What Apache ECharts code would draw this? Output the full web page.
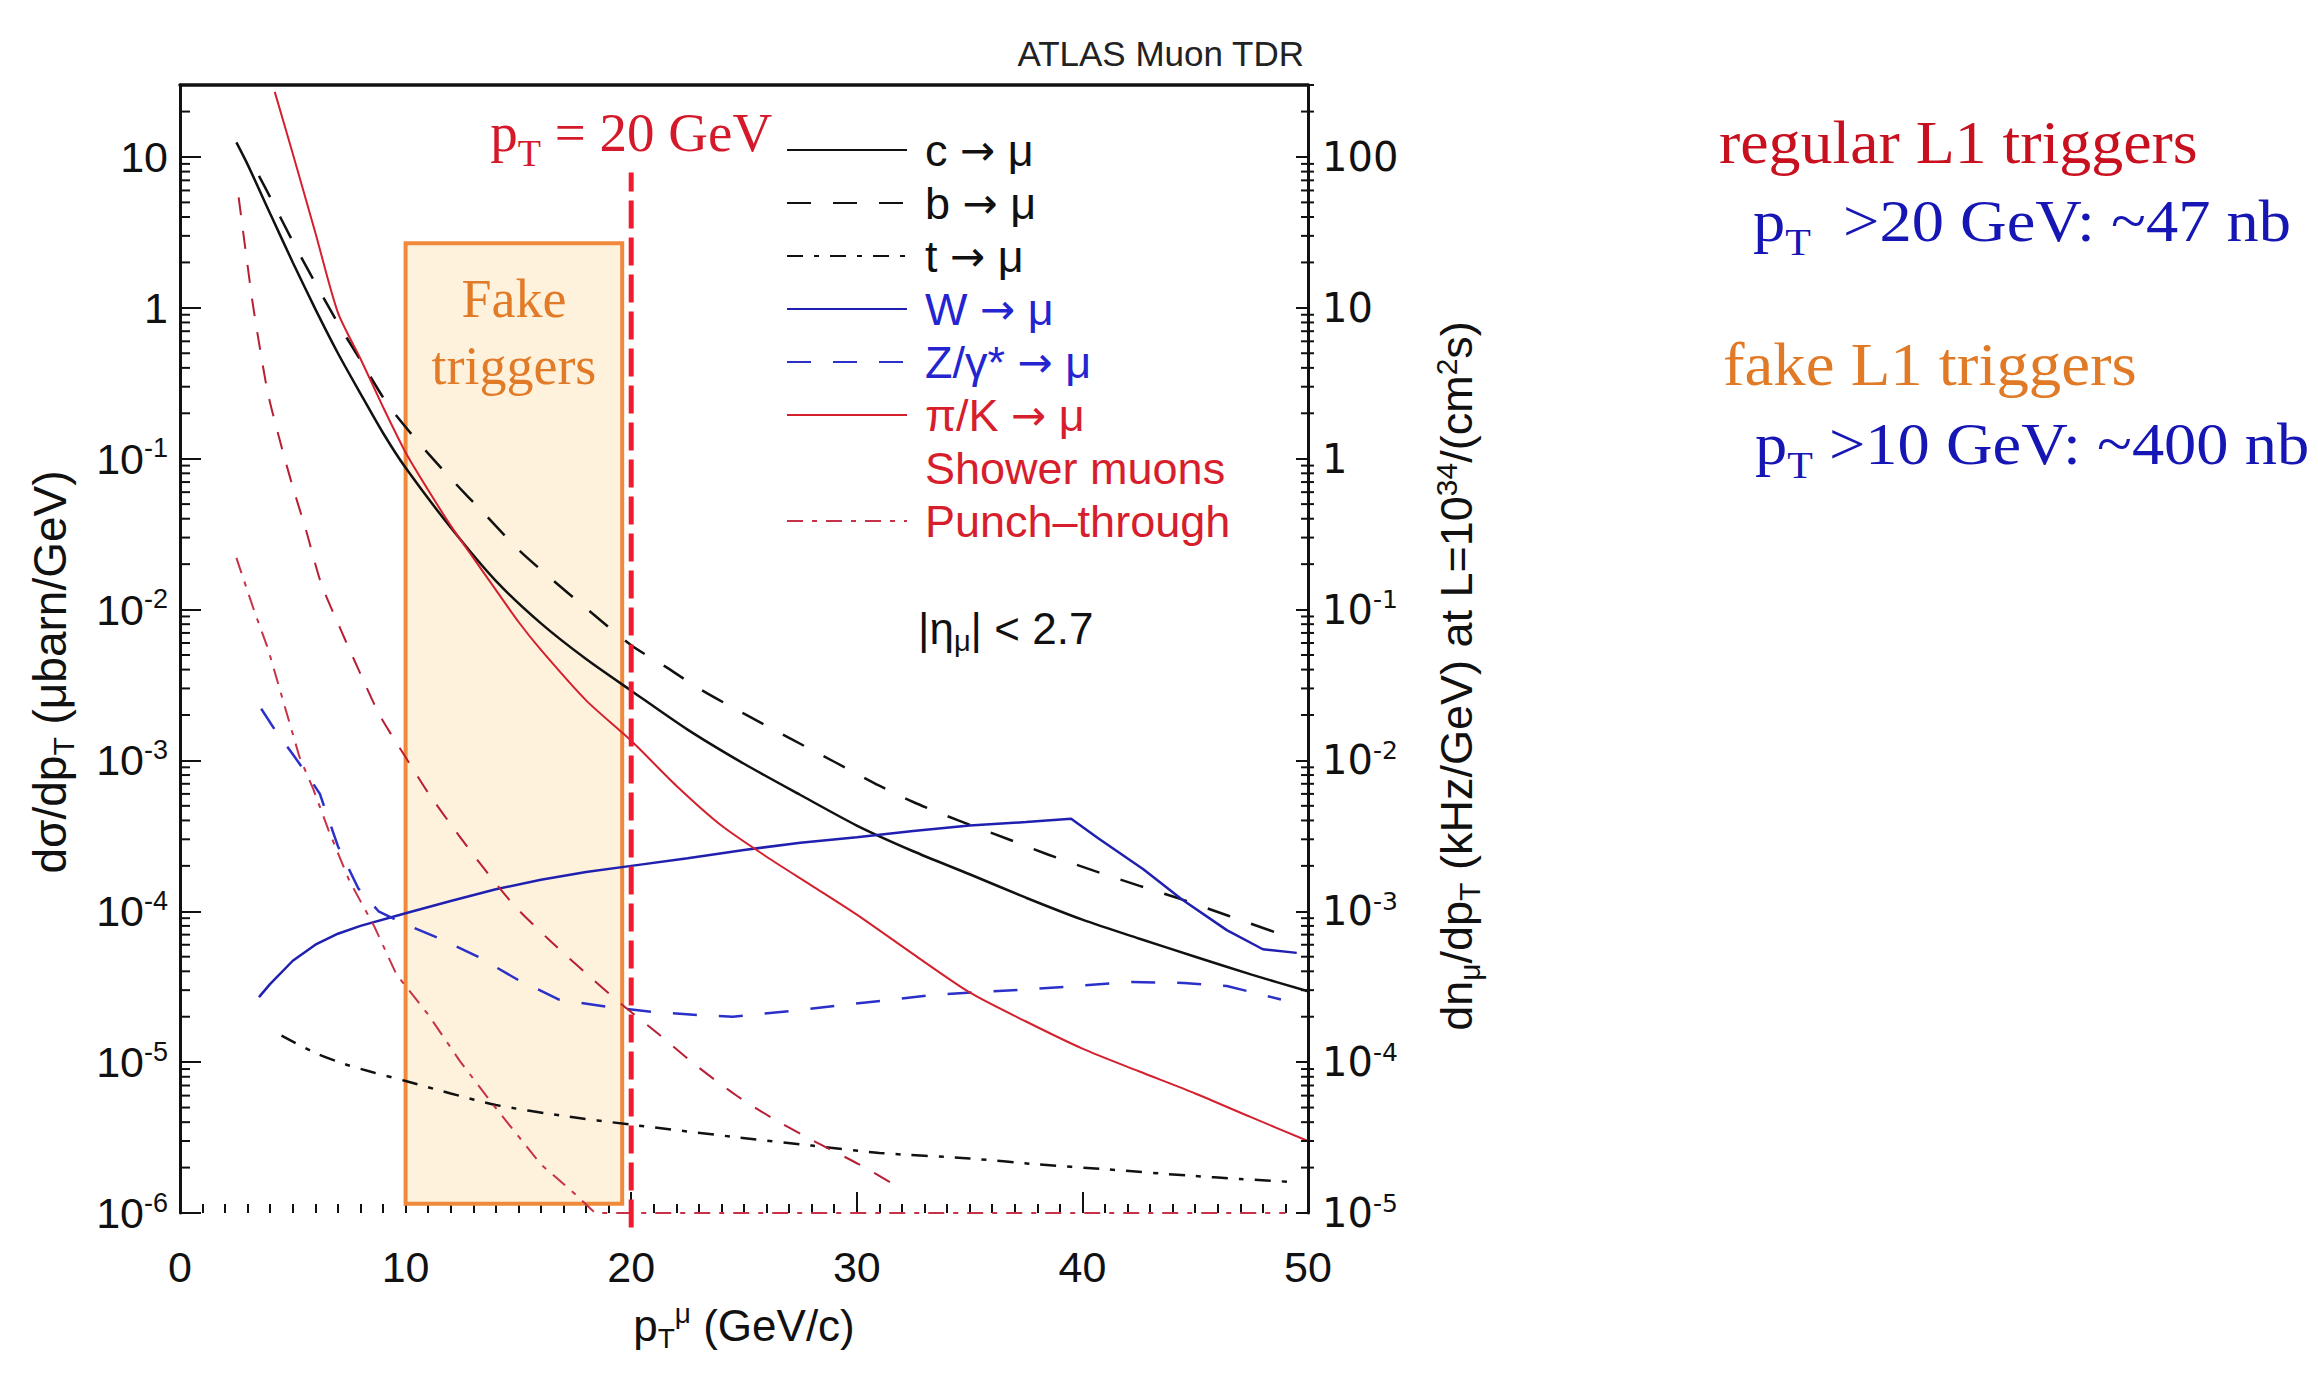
<!DOCTYPE html>
<html>
<head>
<meta charset="utf-8">
<title>Muon rates vs pT</title>
<script src="https://cdn.jsdelivr.net/npm/echarts@6.0.0/dist/echarts.min.js"></script>
<style>
  html, body { margin: 0; padding: 0; background: #fff; }
  #main { width: 2318px; height: 1379px; }
</style>
</head>
<body>
<div id="main"></div>
<script>
// inclusive muon cross sections, ub/GeV
const cX = [2.5, 3, 4, 5, 6, 7, 8, 9, 10, 12, 14, 16, 18, 20, 22.5, 25, 27.5, 30, 32.5, 35, 37.5, 40, 42.5, 45, 47.5, 50];
const cY = [12.5, 8.9, 4.2, 2.0, 0.98, 0.50, 0.27, 0.148, 0.087, 0.035, 0.0155, 0.0081, 0.0047, 0.0029, 0.0016, 9.5e-4, 5.9e-4, 3.7e-4, 2.5e-4, 1.76e-4, 1.23e-4, 8.8e-5, 6.6e-5, 5.0e-5, 3.8e-5, 2.95e-5];

const bX = [3.5, 4, 5, 6, 7, 8, 9.2, 10.5, 12, 13.5, 15, 16.5, 18, 20, 21.5, 23, 25, 27, 29, 31, 32.5, 34.5, 36.6, 38.5, 40.5, 42.5, 44.4, 46.5, 48.5];
const bY = [7.5, 5.4, 2.75, 1.46, 0.79, 0.45, 0.23, 0.132, 0.074, 0.043, 0.025, 0.0158, 0.0102, 0.0058, 0.0042, 0.0030, 0.00204, 0.00141, 9.8e-4, 6.8e-4, 5.3e-4, 4.0e-4, 3.05e-4, 2.37e-4, 1.86e-4, 1.48e-4, 1.2e-4, 9.3e-5, 7.3e-5];

const tX = [4.5, 6, 7.3, 8.5, 10, 12, 14, 17, 20, 24.5, 28, 31, 35, 38, 41, 44.7, 47, 49.5];
const tY = [1.5e-5, 1.15e-5, 9.7e-6, 8.6e-6, 7.5e-6, 6.2e-6, 5.2e-6, 4.4e-6, 3.85e-6, 3.2e-6, 2.8e-6, 2.5e-6, 2.3e-6, 2.1e-6, 1.95e-6, 1.77e-6, 1.68e-6, 1.6e-6];

const wX = [3.5, 4, 5, 6, 7, 8, 10, 12, 14, 16, 18, 20, 22.5, 25, 27.5, 30, 32.5, 35, 37.5, 39.5, 40.7, 42.7, 44.4, 46.4, 48, 49.5];
const wY = [2.7e-5, 3.3e-5, 4.7e-5, 6.0e-5, 7.1e-5, 8.0e-5, 9.7e-5, 1.17e-4, 1.40e-4, 1.62e-4, 1.82e-4, 2.0e-4, 2.25e-4, 2.55e-4, 2.85e-4, 3.1e-4, 3.4e-4, 3.7e-4, 3.9e-4, 4.1e-4, 3.05e-4, 1.9e-4, 1.2e-4, 7.5e-5, 5.6e-5, 5.3e-5];

const zX = [3.6, 4.2, 5, 5.6, 6.2, 7, 7.9, 8.8, 10, 11.4, 13.2, 15, 16.8, 18.9, 21, 23, 24.5, 27.3, 29.5, 33.5, 37.8, 42.2, 44.5, 46.4, 48.8];
const zY = [2.2e-3, 1.6e-3, 1.1e-3, 8.2e-4, 6.0e-4, 2.7e-4, 1.42e-4, 1.0e-4, 8.2e-5, 6.7e-5, 5.0e-5, 3.5e-5, 2.6e-5, 2.33e-5, 2.15e-5, 2.05e-5, 2.0e-5, 2.2e-5, 2.4e-5, 2.8e-5, 3.05e-5, 3.4e-5, 3.35e-5, 3.2e-5, 2.6e-5];

const piX = [4.2, 5, 6, 7, 8, 9, 10, 11, 12, 13, 14, 15, 16, 18, 20, 22, 24, 26, 28, 30, 32.5, 35, 37.5, 40, 42.5, 45, 47.5, 50];
const piY = [27, 10.5, 3.15, 0.93, 0.46, 0.22, 0.110, 0.062, 0.036, 0.022, 0.0135, 0.0083, 0.0054, 0.0025, 0.00135, 6.8e-4, 3.7e-4, 2.3e-4, 1.48e-4, 9.5e-5, 5.2e-5, 2.9e-5, 1.86e-5, 1.23e-5, 8.7e-6, 6.2e-6, 4.3e-6, 3.0e-6];

const showerX = [2.6, 3.2, 3.5, 3.9, 4.5, 5, 5.6, 6.25, 7.1, 7.85, 8.85, 10, 11, 12.35, 13.5, 14.8, 16.3, 17.9, 19.6, 21.2, 22.8, 24.6, 26.2, 28.1, 30.1, 31.8];
const showerY = [5.4, 1.13, 0.59, 0.27, 0.12, 0.065, 0.033, 0.015, 0.0075, 0.0042, 0.002, 1.05e-3, 6.1e-4, 3.2e-4, 1.9e-4, 1.1e-4, 6.6e-5, 4.0e-5, 2.4e-5, 1.54e-5, 9.7e-6, 6.1e-6, 4.3e-6, 3.0e-6, 2.1e-6, 1.5e-6];

const punchX = [2.5, 3.3, 3.9, 4.6, 5.3, 5.9, 6.6, 7.5, 8.6, 9.6, 11, 12.4, 13.8, 16, 17.6, 18.4, 49];
const punchY = [0.022, 0.0097, 0.0055, 0.0024, 0.00105, 6.5e-4, 3.4e-4, 1.6e-4, 8.0e-5, 3.8e-5, 2.07e-5, 1.02e-5, 5.4e-6, 2.1e-6, 1.3e-6, 1.0e-6, 1.0e-6];

// fake trigger window and the 20 GeV cut
const fakeBox = { x0: 10, x1: 19.6, y0: 1.15e-6, y1: 2.68 };
const cutX = [20, 20];
const cutY = [8e-7, 7.9];

// log minor ticks 2..9 per decade
const minorMantissa = [2, 3, 4, 5, 6, 7, 8, 9];

const sans = 'Liberation Sans, Arial, sans-serif';
const serif = 'Liberation Serif, Times New Roman, serif';
const black = '#111';
const red = '#d61e2c';
const blue = '#1616b4';

function pairs(xs, ys) {
  return xs.map((x, i) => [x, ys[i]]);
}

function curve(name, xs, ys, color, width, type, smooth) {
  return {
    name: name,
    type: 'line',
    data: pairs(xs, ys),
    symbol: 'none',
    smooth: smooth,
    z: 3,
    lineStyle: { color: color, width: width, type: type },
    itemStyle: { color: color }
  };
}

function powLabel(v) {
  const e = Math.log10(v);
  const n = Math.round(e);
  if (Math.abs(e - n) > 1e-6) return '';
  return n >= 0 ? String(Math.pow(10, n)) : '10{sup|-' + (-n) + '}';
}

const minorTicks = [];
for (let n = -6; n <= 1; n++) {
  minorMantissa.forEach(k => {
    const v = k * Math.pow(10, n);
    if (v <= 30) {
      minorTicks.push([0, v]);
      minorTicks.push([50, v]);
    }
  });
}

function renderMinorTick(params, api) {
  const x = api.value(0);
  const p = api.coord([x, api.value(1)]);
  const x1 = x === 0 ? p[0] : p[0] - 7;
  const x2 = x === 0 ? p[0] + 10 : p[0] + 6;
  return {
    type: 'line',
    shape: { x1: x1, y1: p[1], x2: x2, y2: p[1] },
    style: { stroke: black, lineWidth: 2 }
  };
}

var myChart = echarts.init(document.getElementById('main'), null, { renderer: 'svg' });

const option = {
  animation: false,
  backgroundColor: '#fff',
  grid: { left: 180, top: 85, width: 1128, height: 1128, outerBoundsMode: 'none' },
  legend: {
    orient: 'vertical',
    left: 781,
    top: 122,
    itemWidth: 120,
    itemHeight: 14,
    itemGap: 7,
    selectedMode: false,
    itemStyle: { opacity: 0 },
    formatter: name => name.replace('→', '{arr|→}'),
    textStyle: {
      fontFamily: sans, fontSize: 45, lineHeight: 46, padding: [0, 0, 0, 13],
      rich: { arr: { fontFamily: 'DejaVu Sans', fontSize: 42, lineHeight: 46 } }
    },
    data: [
      { name: 'c → μ', textStyle: { color: black } },
      { name: 'b → μ', textStyle: { color: black } },
      { name: 't → μ', textStyle: { color: black } },
      { name: 'W → μ', textStyle: { color: '#2424d0' } },
      { name: 'Z/γ* → μ', textStyle: { color: '#2424d0' } },
      { name: 'π/K → μ', textStyle: { color: red } },
      { name: 'Shower muons', icon: 'rect', itemStyle: { opacity: 0 }, textStyle: { color: red } },
      { name: 'Punch–through', textStyle: { color: red } }
    ]
  },
  xAxis: [
    {
      type: 'value',
      min: 0,
      max: 50,
      interval: 10,
      name: 'p{sub|T}{sup|μ} (GeV/c)',
      nameLocation: 'middle',
      nameGap: 90,
      nameTextStyle: {
        fontFamily: sans, fontSize: 44, lineHeight: 44, color: black,
        rich: {
          sub: { fontFamily: sans, fontSize: 28, height: 17, verticalAlign: 'bottom', color: black },
          sup: { fontFamily: sans, fontSize: 28, height: 20, verticalAlign: 'top', color: black }
        }
      },
      axisLine: { show: false, onZero: false },
      axisTick: { show: true, inside: true, length: 21, lineStyle: { color: black, width: 2 } },
      minorTick: { show: true, splitNumber: 10, length: 9, lineStyle: { color: black, width: 2 } },
      axisLabel: { fontFamily: sans, fontSize: 43, lineHeight: 43, color: black, margin: 32 },
      splitLine: { show: false }
    },
    {
      type: 'value',
      min: 0,
      max: 50,
      position: 'top',
      axisLine: { show: true, onZero: false, lineStyle: { color: black, width: 3.5 } },
      axisTick: { show: false },
      axisLabel: { show: false },
      splitLine: { show: false }
    }
  ],
  yAxis: [
    {
      type: 'log',
      logBase: 10,
      min: 1e-6,
      max: 30,
      axisLine: { show: true, onZero: false, lineStyle: { color: black, width: 3 } },
      axisTick: { show: true, inside: true, length: 21, lineStyle: { color: black, width: 2 } },
      axisLabel: {
        fontFamily: sans, fontSize: 43, lineHeight: 43, color: black, margin: 12,
        formatter: powLabel,
        rich: { sup: { fontFamily: sans, fontSize: 27, height: 22, verticalAlign: 'top', color: black } }
      },
      splitLine: { show: false }
    },
    {
      type: 'log',
      logBase: 10,
      min: 1e-5,
      max: 300,
      position: 'right',
      axisLine: { show: true, onZero: false, lineStyle: { color: black, width: 3 } },
      axisTick: { show: true, inside: true, length: 12, lineStyle: { color: black, width: 2 } },
      axisLabel: {
        fontFamily: 'DejaVu Sans', fontSize: 40, lineHeight: 40, color: black, margin: 14,
        formatter: powLabel,
        rich: { sup: { fontFamily: 'DejaVu Sans', fontSize: 25, height: 20, verticalAlign: 'top', color: black } }
      },
      splitLine: { show: false }
    }
  ],
  graphic: [
    {
      type: 'text', x: 1304, y: 53,
      style: { text: 'ATLAS Muon TDR', fontFamily: sans, fontSize: 35, fill: '#222', align: 'right', verticalAlign: 'middle' }
    },
    {
      type: 'text', x: 50, y: 672, rotation: Math.PI / 2,
      style: {
        text: 'dσ/dp{sub|T} (μbarn/GeV)', fontFamily: sans, fontSize: 46, lineHeight: 46, fill: black,
        align: 'center', verticalAlign: 'middle',
        rich: { sub: { fontFamily: sans, fontSize: 30, height: 19, verticalAlign: 'bottom', fill: black } }
      }
    },
    {
      type: 'text', x: 1456, y: 676, rotation: Math.PI / 2,
      style: {
        text: 'dn{sub|μ}/dp{sub|T} (kHz/GeV) at L=10{sup|34}/(cm{sup|2}s)',
        fontFamily: sans, fontSize: 45, lineHeight: 45, fill: black,
        align: 'center', verticalAlign: 'middle',
        rich: {
          sub: { fontFamily: sans, fontSize: 30, height: 19, verticalAlign: 'bottom', fill: black },
          sup: { fontFamily: sans, fontSize: 30, height: 25, verticalAlign: 'top', fill: black }
        }
      }
    },
    {
      type: 'text', x: 918, y: 628,
      style: {
        text: '|η{sub|μ}| < 2.7', fontFamily: sans, fontSize: 44, lineHeight: 44, fill: black,
        align: 'left', verticalAlign: 'middle',
        rich: { sub: { fontFamily: sans, fontSize: 29, height: 19, verticalAlign: 'bottom', fill: black } }
      }
    },
    {
      type: 'text', x: 1719, y: 142, scaleX: 1.03,
      style: { text: 'regular L1 triggers', fontFamily: serif, fontSize: 62, fill: '#c8101e', align: 'left', verticalAlign: 'middle' }
    },
    {
      type: 'text', x: 1753, y: 220, scaleX: 1.075,
      style: {
        text: 'p{sub|T}  >20 GeV: ~47 nb', fontFamily: serif, fontSize: 60, lineHeight: 60, fill: blue,
        align: 'left', verticalAlign: 'middle',
        rich: { sub: { fontFamily: serif, fontSize: 39, height: 17, verticalAlign: 'bottom', fill: blue } }
      }
    },
    {
      type: 'text', x: 1723, y: 364, scaleX: 1.045,
      style: { text: 'fake L1 triggers', fontFamily: serif, fontSize: 62, fill: '#e07a26', align: 'left', verticalAlign: 'middle' }
    },
    {
      type: 'text', x: 1755, y: 443, scaleX: 1.075,
      style: {
        text: 'p{sub|T} >10 GeV: ~400 nb', fontFamily: serif, fontSize: 60, lineHeight: 60, fill: blue,
        align: 'left', verticalAlign: 'middle',
        rich: { sub: { fontFamily: serif, fontSize: 39, height: 17, verticalAlign: 'bottom', fill: blue } }
      }
    }
  ],
  series: [
    {
      name: 'fake',
      type: 'line',
      data: [],
      z: 1,
      silent: true,
      markArea: {
        silent: true,
        itemStyle: { color: '#fef2dd', borderColor: '#f0893a', borderWidth: 4 },
        label: {
          show: true, position: 'insideTop', distance: 24,
          formatter: 'Fake\ntriggers',
          fontFamily: serif, fontSize: 54, lineHeight: 67, color: '#e27b28'
        },
        data: [[{ coord: [fakeBox.x0, fakeBox.y0] }, { coord: [fakeBox.x1, fakeBox.y1] }]]
      }
    },
    curve('c → μ', cX, cY, black, 2.5, 'solid', 0.25),
    curve('b → μ', bX, bY, black, 2.5, [24, 22], 0.25),
    curve('t → μ', tX, tY, black, 2.5, [16, 11, 5, 11], 0.25),
    curve('W → μ', wX, wY, '#2020b0', 2.5, 'solid', false),
    curve('Z/γ* → μ', zX, zY, '#2a30c8', 2.5, [24, 22], false),
    curve('π/K → μ', piX, piY, '#d4202e', 2, 'solid', 0.25),
    curve('Shower muons', showerX, showerY, '#b81e34', 2, [18, 16], 0.25),
    curve('Punch–through', punchX, punchY, '#c83248', 2, [16, 9, 5, 9], false),
    {
      name: 'cut',
      type: 'line',
      data: pairs(cutX, cutY),
      z: 5,
      clip: false,
      silent: true,
      symbol: 'none',
      lineStyle: { color: '#ee1c2e', width: 5, type: [28, 9] },
      markPoint: {
        silent: true,
        symbol: 'circle',
        symbolSize: 1,
        itemStyle: { color: 'rgba(0,0,0,0)' },
        label: {
          show: true, position: 'top', distance: 12,
          formatter: '{m|p}{s|T}{m| = 20 GeV}',
          rich: {
            m: { fontFamily: serif, fontSize: 55, lineHeight: 55, color: '#d41a2a' },
            s: { fontFamily: serif, fontSize: 38, height: 13, verticalAlign: 'bottom', color: '#d41a2a' }
          }
        },
        data: [{ coord: [cutX[1], cutY[1]] }]
      }
    },
    {
      name: 'minor ticks',
      type: 'custom',
      z: 4,
      silent: true,
      renderItem: renderMinorTick,
      data: minorTicks
    }
  ]
};

myChart.setOption(option);
</script>
</body>
</html>
